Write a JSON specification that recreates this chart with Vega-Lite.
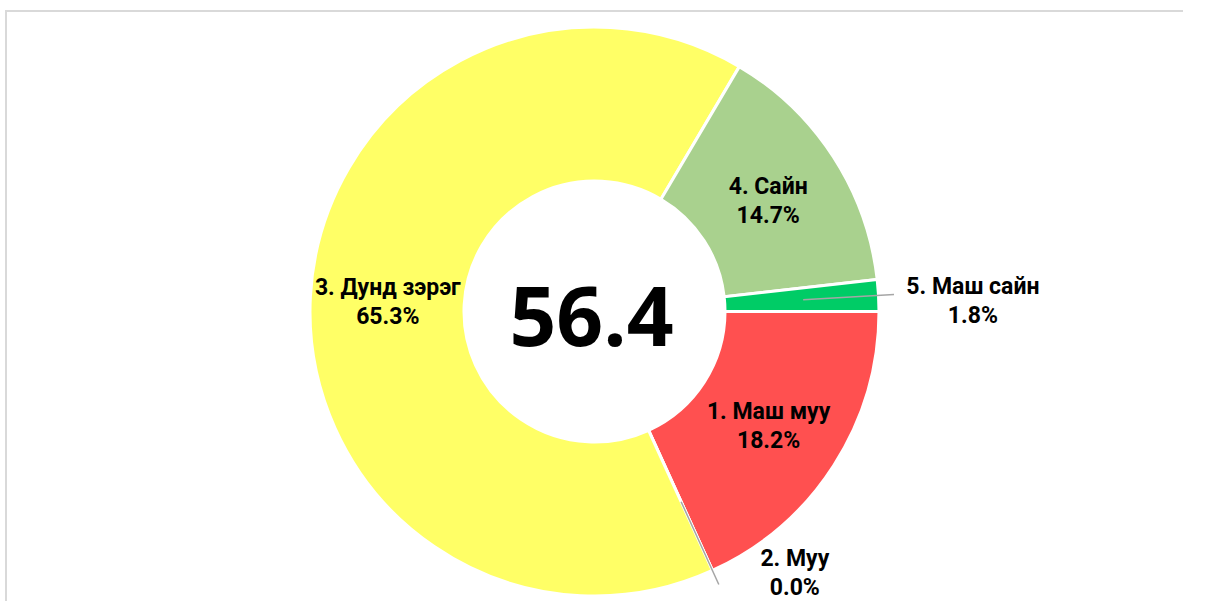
{
  "$schema": "https://vega.github.io/schema/vega-lite/v6.json",
  "width": 1177,
  "height": 601,
  "autosize": {"type": "none"},
  "padding": {"left": 6, "top": 11, "right": 23, "bottom": -11},
  "background": "white",
  "view": {"stroke": "#D9D9D9", "strokeWidth": 2, "strokeDash": [1177, 1778, 601]},
  "config": {
    "text": {"font": "Roboto"}
  },
  "data": {
    "values": [
      {"name": "1. Маш муу", "pct": 18.2},
      {"name": "2. Муу", "pct": 0.0},
      {"name": "3. Дунд зэрэг", "pct": 65.3},
      {"name": "4. Сайн", "pct": 14.7},
      {"name": "5. Маш сайн", "pct": 1.8}
    ]
  },
  "layer": [
    {
      "transform": [
        {"stack": "pct", "groupby": [], "sort": [{"field": "name", "order": "ascending"}], "as": ["s0", "s1"]}
      ],
      "mark": {"type": "arc", "outerRadius": 284.5, "innerRadius": 130.5, "stroke": "white", "strokeWidth": 3},
      "encoding": {
        "theta": {"field": "s0", "type": "quantitative", "stack": null, "scale": {"domain": [0, 100], "range": [1.5707963, 7.8539816]}},
        "theta2": {"field": "s1"},
        "color": {
          "field": "name", "type": "nominal", "legend": null,
          "scale": {
            "domain": ["1. Маш муу", "2. Муу", "3. Дунд зэрэг", "4. Сайн", "5. Маш сайн"],
            "range": ["#FF5050", "#C00000", "#FFFF66", "#A9D18E", "#00CC66"]
          }
        }
      }
    },
    {
      "transform": [
        {"stack": "pct", "groupby": [], "sort": [{"field": "name", "order": "ascending"}], "as": ["s0", "s1"]},
        {"calculate": "(datum.s0 + datum.s1) / 2", "as": "mid"},
        {"filter": "datum.name == '2. Муу' || datum.name == '5. Маш сайн'"}
      ],
      "mark": {"type": "arc", "outerRadius": 300, "innerRadius": 209, "filled": false, "stroke": "#A6A6A6", "strokeWidth": 1.5},
      "encoding": {
        "theta": {"field": "mid", "type": "quantitative", "stack": null, "scale": {"domain": [0, 100], "range": [1.5707963, 7.8539816]}},
        "theta2": {"field": "mid"}
      }
    },
    {
      "transform": [
        {"stack": "pct", "groupby": [], "sort": [{"field": "name", "order": "ascending"}], "as": ["s0", "s1"]},
        {"calculate": "(datum.s0 + datum.s1) / 2", "as": "mid"},
        {"calculate": "datum.name + '\\n' + format(datum.pct, '.1f') + '%'", "as": "label"},
        {"filter": "datum.name != '2. Муу' && datum.name != '5. Маш сайн'"}
      ],
      "mark": {"type": "text", "radius": 207, "dy": -12, "font": "Roboto", "fontWeight": "bold", "fontSize": 23, "lineBreak": "\n", "lineHeight": 29, "align": "center", "baseline": "middle", "color": "black"},
      "encoding": {
        "theta": {"field": "mid", "type": "quantitative", "stack": null, "scale": {"domain": [0, 100], "range": [1.5707963, 7.8539816]}},
        "text": {"field": "label", "type": "nominal"}
      }
    },
    {
      "transform": [
        {"stack": "pct", "groupby": [], "sort": [{"field": "name", "order": "ascending"}], "as": ["s0", "s1"]},
        {"calculate": "(datum.s0 + datum.s1) / 2", "as": "mid"},
        {"calculate": "datum.name + '\\n' + format(datum.pct, '.1f') + '%'", "as": "label"},
        {"filter": "datum.name == '5. Маш сайн'"}
      ],
      "mark": {"type": "text", "radius": 379, "dy": -3, "font": "Roboto", "fontWeight": "bold", "fontSize": 23, "lineBreak": "\n", "lineHeight": 29, "align": "center", "baseline": "middle", "color": "black"},
      "encoding": {
        "theta": {"field": "mid", "type": "quantitative", "stack": null, "scale": {"domain": [0, 100], "range": [1.5707963, 7.8539816]}},
        "text": {"field": "label", "type": "nominal"}
      }
    },
    {
      "transform": [
        {"stack": "pct", "groupby": [], "sort": [{"field": "name", "order": "ascending"}], "as": ["s0", "s1"]},
        {"calculate": "(datum.s0 + datum.s1) / 2", "as": "mid"},
        {"calculate": "datum.name + '\\n' + format(datum.pct, '.1f') + '%'", "as": "label"},
        {"filter": "datum.name == '2. Муу'"}
      ],
      "mark": {"type": "text", "radius": 300, "dx": 76, "dy": -26, "font": "Roboto", "fontWeight": "bold", "fontSize": 23, "lineBreak": "\n", "lineHeight": 29, "align": "center", "baseline": "middle", "color": "black"},
      "encoding": {
        "theta": {"field": "mid", "type": "quantitative", "stack": null, "scale": {"domain": [0, 100], "range": [1.5707963, 7.8539816]}},
        "text": {"field": "label", "type": "nominal"}
      }
    },
    {
      "data": {"values": [{"score": 56.4}]},
      "mark": {"type": "text", "font": "Open Sans", "fontWeight": "bold", "fontSize": 82, "align": "center", "baseline": "alphabetic", "dx": -3, "dy": 34, "color": "black"},
      "encoding": {
        "text": {"field": "score", "type": "quantitative", "format": ".1f"}
      }
    }
  ]
}
